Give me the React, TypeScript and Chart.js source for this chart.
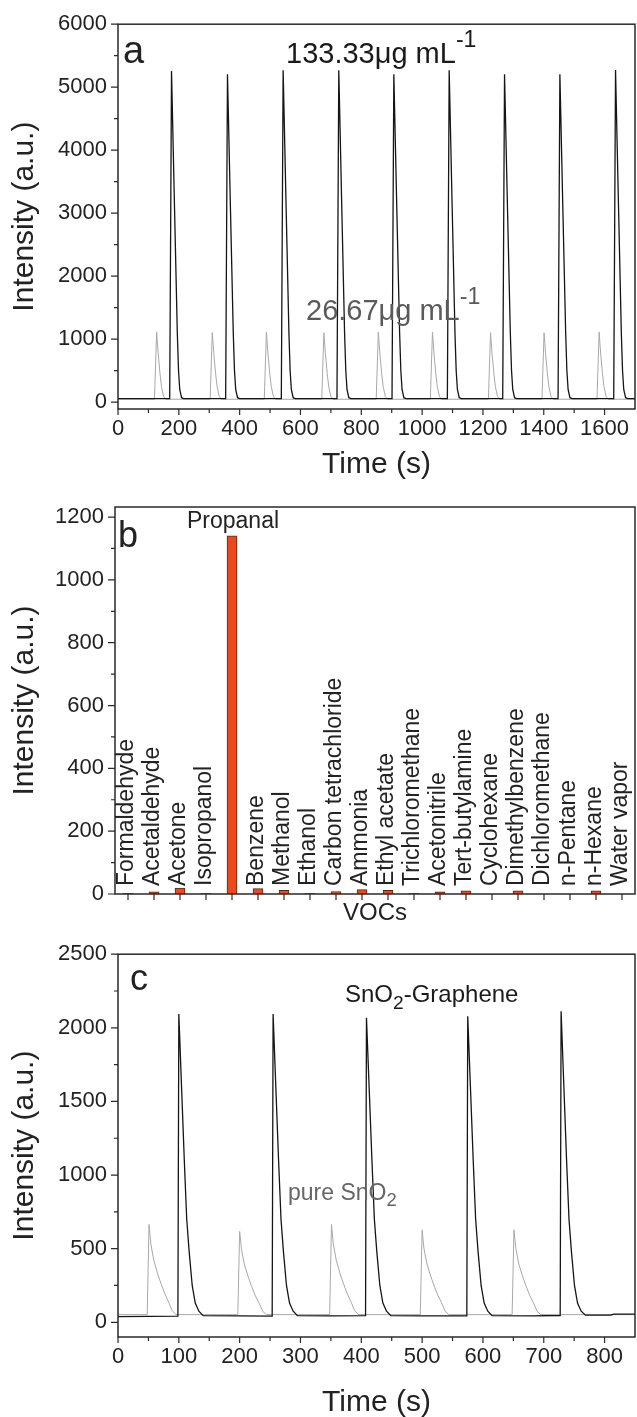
import React, { useEffect, useRef } from 'react';
import { Chart, registerables } from 'chart.js';

Chart.register(...registerables);

const FONT = '"Liberation Sans", Arial, Helvetica, sans-serif';
const INK = '#222222';
const W = 637;

// ---------------- Panel a : response at two concentrations ----------------
const aTimeTicks = [0, 200, 400, 600, 800, 1000, 1200, 1400, 1600];
const aTimeMinor = [100, 300, 500, 700, 900, 1100, 1300, 1500];
const aIntensityTicks = [0, 1000, 2000, 3000, 4000, 5000, 6000];
const aIntensityMinor = [500, 1500, 2500, 3500, 4500, 5500];

// 133.33 ug/mL (time s, intensity)
const aHigh: [number, number][] = [
  [0, 55],
  [170, 55], [176, 5257], [186, 3050], [195, 1100], [199, 500], [203, 200], [209, 70], [216, 55],
  [354, 55], [360, 5205], [370, 3020], [379, 1100], [383, 500], [387, 200], [393, 70], [400, 55],
  [537, 55], [543, 5268], [553, 3055], [562, 1100], [566, 500], [570, 200], [576, 70], [583, 55],
  [720, 55], [726, 5268], [736, 3055], [745, 1100], [749, 500], [753, 200], [759, 70], [766, 55],
  [901, 55], [907, 5205], [917, 3020], [926, 1100], [930, 500], [934, 200], [940, 70], [947, 55],
  [1083, 55], [1089, 5268], [1099, 3055], [1108, 1100], [1112, 500], [1116, 200], [1122, 70], [1129, 55],
  [1265, 55], [1271, 5205], [1281, 3020], [1290, 1100], [1294, 500], [1298, 200], [1304, 70], [1311, 55],
  [1447, 55], [1453, 5205], [1463, 3020], [1472, 1100], [1476, 500], [1480, 200], [1486, 70], [1493, 55],
  [1630, 55], [1636, 5273], [1646, 3060], [1655, 1100], [1659, 500], [1663, 200], [1669, 70], [1676, 55],
  [1700, 55],
];

// 26.67 ug/mL
const aLow: [number, number][] = [
  [0, 45],
  [120, 45], [127, 1114], [132, 780], [138, 457], [143, 245], [150, 89], [157, 45],
  [303, 45], [310, 1105], [315, 774], [321, 453], [326, 243], [333, 88], [340, 45],
  [481, 45], [488, 1110], [493, 777], [499, 455], [504, 244], [511, 89], [518, 45],
  [670, 45], [677, 1100], [682, 770], [688, 451], [693, 242], [700, 88], [707, 45],
  [849, 45], [856, 1110], [861, 777], [867, 455], [872, 244], [879, 89], [886, 45],
  [1027, 45], [1034, 1110], [1039, 777], [1045, 455], [1050, 244], [1057, 89], [1064, 45],
  [1218, 45], [1225, 1100], [1230, 770], [1236, 451], [1241, 242], [1248, 88], [1255, 45],
  [1394, 45], [1401, 1100], [1406, 770], [1412, 451], [1417, 242], [1424, 88], [1431, 45],
  [1575, 45], [1582, 1110], [1587, 777], [1593, 455], [1598, 244], [1605, 89], [1612, 45],
  [1700, 45],
];

// ---------------- Panel b : selectivity ----------------
const vocs = [
  'Formaldehyde', 'Acetaldehyde', 'Acetone', 'Isopropanol', 'Propanal', 'Benzene', 'Methanol',
  'Ethanol', 'Carbon tetrachloride', 'Ammonia', 'Ethyl acetate', 'Trichloromethane', 'Acetonitrile',
  'Tert-butylamine', 'Cyclohexane', 'Dimethylbenzene', 'Dichloromethane', 'n-Pentane', 'n-Hexane',
  'Water vapor',
];
const vocResponse = [2, 7, 19, 2, 1140, 17, 12, 2, 8, 14, 12, 2, 7, 10, 0, 10, 0, 0, 10, 0];
const bIntensityTicks = [0, 200, 400, 600, 800, 1000, 1200];
const bIntensityMinor = [100, 300, 500, 700, 900, 1100];

// ---------------- Panel c : SnO2-graphene vs pure SnO2 ----------------
const cTimeTicks = [0, 100, 200, 300, 400, 500, 600, 700, 800];
const cTimeMinor = [50, 150, 250, 350, 450, 550, 650, 750];
const cIntensityTicks = [0, 500, 1000, 1500, 2000, 2500];
const cIntensityMinor = [250, 750, 1250, 1750, 2250];

const cGraphene: [number, number][] = [
  [0, 38], [50, 40],
  [98.5, 42], [100, 2093], [109, 1100], [113, 700], [117, 480], [122, 250], [127, 130], [133, 75], [140, 45],
  [200, 43],
  [253.5, 42], [255, 2093], [264, 1100], [268, 700], [272, 480], [277, 250], [282, 130], [288, 75], [295, 45],
  [350, 44],
  [407, 45], [408.5, 2068], [417.5, 1100], [421.5, 700], [425.5, 480], [430.5, 250], [435.5, 130], [441.5, 75], [448.5, 45],
  [500, 44],
  [573.5, 43], [575, 2079], [584, 1100], [588, 700], [592, 480], [597, 250], [602, 130], [608, 75], [615, 45],
  [680, 44],
  [727, 46], [728.5, 2113], [737.5, 1100], [741.5, 700], [745.5, 480], [750.5, 250], [755.5, 130], [761.5, 75], [768.5, 48],
  [810, 48], [815, 55], [850, 55],
];

const cPure: [number, number][] = [
  [0, 52],
  [48, 52], [51, 664], [54, 531], [59, 418], [65, 332], [71, 259], [77, 193], [83, 139], [89, 80], [95, 52],
  [197, 52], [200, 617], [203, 494], [208, 389], [214, 309], [220, 241], [226, 179], [232, 130], [238, 74], [244, 52],
  [348, 52], [351, 664], [354, 531], [359, 418], [365, 332], [371, 259], [377, 193], [383, 139], [389, 80], [395, 52],
  [497, 52], [500, 628], [503, 502], [508, 396], [514, 314], [520, 245], [526, 182], [532, 132], [538, 75], [544, 52],
  [648, 52], [651, 628], [654, 502], [659, 396], [665, 314], [671, 245], [677, 182], [683, 132], [689, 75], [695, 52],
  [850, 52],
];

// ---------------- helpers ----------------
type Area = { left: number; right: number; top: number; bottom: number };
type Part = { t: string; sup?: boolean; sub?: boolean };

const tickFont = { family: FONT, size: 22 };
const TITLE = 30;

function setTicks(values: number[]) {
  return (s: any) => {
    s.ticks = values.map((v) => ({ value: v }));
  };
}

function drawRich(ctx: CanvasRenderingContext2D, x: number, y: number, parts: Part[], size: number, color: string) {
  ctx.fillStyle = color;
  ctx.textAlign = 'left';
  ctx.textBaseline = 'alphabetic';
  let cx = x;
  for (const p of parts) {
    const s = p.sup || p.sub ? size * 0.8 : size;
    ctx.font = `${s}px ${FONT}`;
    const dy = p.sup ? -size * 0.56 : p.sub ? size * 0.28 : 0;
    ctx.fillText(p.t, cx, y + dy);
    cx += ctx.measureText(p.t).width;
  }
}

function drawText(ctx: CanvasRenderingContext2D, t: string, x: number, y: number, size: number, color: string,
  align: CanvasTextAlign = 'left', baseline: CanvasTextBaseline = 'alphabetic', rot = 0) {
  ctx.save();
  ctx.translate(x, y);
  if (rot) ctx.rotate(rot);
  ctx.font = `${size}px ${FONT}`;
  ctx.fillStyle = color;
  ctx.textAlign = align;
  ctx.textBaseline = baseline;
  ctx.fillText(t, 0, 0);
  ctx.restore();
}

function decor(opts: {
  yMajor: number[]; yMinor: number[]; xMajor: number[]; xMinor: number[];
  draw: (ctx: CanvasRenderingContext2D, chart: any) => void;
}) {
  return {
    id: 'decor',
    afterDraw(chart: any) {
      const { ctx, chartArea: a } = chart;
      const x = chart.scales.x;
      const y = chart.scales.y;
      ctx.save();
      ctx.strokeStyle = '#2a2a2a';
      ctx.lineWidth = 1.5;
      ctx.strokeRect(a.left, a.top, a.right - a.left, a.bottom - a.top);
      ctx.lineWidth = 1.2;
      ctx.beginPath();
      const yt = (v: number, len: number) => {
        const p = y.getPixelForValue(v);
        ctx.moveTo(a.left - len, p);
        ctx.lineTo(a.left, p);
      };
      const xt = (v: number, len: number) => {
        const p = x.getPixelForValue(v);
        ctx.moveTo(p, a.bottom);
        ctx.lineTo(p, a.bottom + len);
      };
      opts.yMajor.forEach((v) => yt(v, 7));
      opts.yMinor.forEach((v) => yt(v, 4));
      opts.xMajor.forEach((v) => xt(v, 6));
      opts.xMinor.forEach((v) => xt(v, 4));
      ctx.stroke();
      opts.draw(ctx, chart);
      ctx.restore();
    },
  };
}

function baseOptions(area: Area, height: number, x: any, y: any) {
  return {
    animation: false,
    responsive: false,
    events: [],
    layout: { padding: { left: 0, right: W - area.right, top: area.top, bottom: 0 } },
    plugins: { legend: { display: false }, tooltip: { enabled: false }, title: { display: false } },
    scales: {
      x: {
        grid: { display: false, drawTicks: false },
        border: { display: false },
        afterFit: (s: any) => { s.height = height - area.bottom; },
        ...x,
        ticks: { font: tickFont, color: INK, padding: 7, autoSkip: false, maxRotation: 0, minRotation: 0, callback: (v: any) => String(v), ...(x.ticks || {}) },
      },
      y: {
        type: 'linear',
        grid: { display: false, drawTicks: false },
        border: { display: false },
        afterFit: (s: any) => { s.width = area.left; },
        ...y,
        ticks: { font: tickFont, color: INK, padding: 11, autoSkip: false, callback: (v: any) => String(v), ...(y.ticks || {}) },
      },
    },
  };
}

const pts = (arr: [number, number][]) => arr.map(([x, y]) => ({ x, y }));

// ---------------- configs ----------------
const HA = 480;
const areaA: Area = { left: 118, right: 635, top: 24, bottom: 409 };
function makeA(): any {
  return {
    type: 'line',
    data: {
      datasets: [
        { data: pts(aHigh), borderColor: '#151515', borderWidth: 1.3, pointRadius: 0, tension: 0 },
        { data: pts(aLow), borderColor: '#a8a8a8', borderWidth: 1, pointRadius: 0, tension: 0 },
      ],
    },
    options: baseOptions(areaA, HA,
      { type: 'linear', min: 0, max: 1700, afterBuildTicks: setTicks(aTimeTicks) },
      { min: -110, max: 6000, afterBuildTicks: setTicks(aIntensityTicks) }),
    plugins: [decor({
      yMajor: aIntensityTicks, yMinor: aIntensityMinor, xMajor: aTimeTicks, xMinor: aTimeMinor,
      draw: (ctx, chart) => {
        const a = chart.chartArea;
        drawText(ctx, 'a', 123, 63, 38, INK);
        drawRich(ctx, 286, 63, [{ t: '133.33μg mL' }, { t: '-1', sup: true }], 29, '#1a1a1a');
        drawRich(ctx, 306, 320, [{ t: '26.67μg mL' }, { t: '-1', sup: true }], 29, '#5a5a5a');
        drawText(ctx, 'Intensity (a.u.)', 25, (a.top + a.bottom) / 2, TITLE, INK, 'center', 'middle', -Math.PI / 2);
        drawText(ctx, 'Time (s)', (a.left + a.right) / 2, 465, TITLE, INK, 'center', 'middle');
      },
    })],
  };
}

const HB = 460;
const areaB: Area = { left: 115, right: 635, top: 27, bottom: 414 };
function makeB(): any {
  return {
    type: 'bar',
    data: {
      labels: vocs,
      datasets: [{
        data: vocResponse, backgroundColor: '#EC4A1E', borderColor: '#5b2412', borderWidth: 1,
        barThickness: 10,
      }],
    },
    options: baseOptions(areaB, HB,
      { type: 'category', offset: true, ticks: { display: false } },
      { min: 0, max: 1232, afterBuildTicks: setTicks(bIntensityTicks) }),
    plugins: [decor({
      yMajor: bIntensityTicks, yMinor: bIntensityMinor, xMajor: vocs.map((_, i) => i), xMinor: [],
      draw: (ctx, chart) => {
        const a = chart.chartArea;
        const xs = chart.scales.x;
        drawText(ctx, 'b', 118, 67, 36, INK);
        vocs.forEach((name, i) => {
          const px = xs.getPixelForValue(i);
          if (name === 'Propanal') {
            drawText(ctx, name, px + 1, 48, 23, INK, 'center');
          } else {
            drawText(ctx, name, px - 1, a.bottom - 8, 23, INK, 'left', 'middle', -Math.PI / 2);
          }
        });
        drawText(ctx, 'Intensity (a.u.)', 25, (a.top + a.bottom) / 2, TITLE, INK, 'center', 'middle', -Math.PI / 2);
        drawText(ctx, 'VOCs', (a.left + a.right) / 2, 433, 24, INK, 'center', 'middle');
      },
    })],
  };
}

const HC = 487;
const areaC: Area = { left: 118, right: 635, top: 23, bottom: 407 };
function makeC(): any {
  return {
    type: 'line',
    data: {
      datasets: [
        { data: pts(cGraphene), borderColor: '#151515', borderWidth: 1.3, pointRadius: 0, tension: 0 },
        { data: pts(cPure), borderColor: '#a8a8a8', borderWidth: 1, pointRadius: 0, tension: 0 },
      ],
    },
    options: baseOptions(areaC, HC,
      { type: 'linear', min: 0, max: 850, afterBuildTicks: setTicks(cTimeTicks) },
      { min: -100, max: 2500, afterBuildTicks: setTicks(cIntensityTicks) }),
    plugins: [decor({
      yMajor: cIntensityTicks, yMinor: cIntensityMinor, xMajor: cTimeTicks, xMinor: cTimeMinor,
      draw: (ctx, chart) => {
        const a = chart.chartArea;
        drawText(ctx, 'c', 130, 60, 36, INK);
        drawRich(ctx, 345, 72, [{ t: 'SnO' }, { t: '2', sub: true }, { t: '-Graphene' }], 24, '#1a1a1a');
        drawRich(ctx, 288, 270, [{ t: 'pure SnO' }, { t: '2', sub: true }], 23, '#666666');
        drawText(ctx, 'Intensity (a.u.)', 25, (a.top + a.bottom) / 2, TITLE, INK, 'center', 'middle', -Math.PI / 2);
        drawText(ctx, 'Time (s)', (a.left + a.right) / 2, 473, TITLE, INK, 'center', 'middle');
      },
    })],
  };
}

function Panel({ top, height, make }: { top: number; height: number; make: () => any }) {
  const ref = useRef<HTMLCanvasElement>(null);
  useEffect(() => {
    const chart = new Chart(ref.current as HTMLCanvasElement, make());
    return () => chart.destroy();
  }, [make]);
  return (
    <canvas
      ref={ref}
      width={W}
      height={height}
      style={{ position: 'absolute', left: 0, top, width: W, height, display: 'block' }}
    />
  );
}

export default function App() {
  return (
    <div style={{ position: 'absolute', left: 0, top: 0, width: W, height: 1417, background: '#fff', overflow: 'hidden' }}>
      <Panel top={0} height={HA} make={makeA} />
      <Panel top={480} height={HB} make={makeB} />
      <Panel top={930} height={HC} make={makeC} />
    </div>
  );
}
